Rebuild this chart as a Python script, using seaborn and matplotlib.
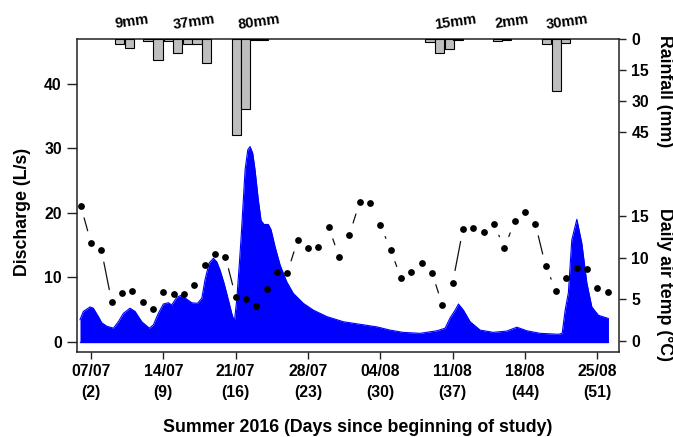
import numpy as np
import pandas as pd
import matplotlib
matplotlib.use("Agg")
import matplotlib.pyplot as plt
import matplotlib.transforms as mtransforms
import seaborn as sns

# ---------------- data ----------------
# discharge (L/s) vs day of study
q_day = [0.93, 1.25, 1.90, 2.22, 2.71, 3.03, 3.52, 4.16, 4.64, 5.13, 5.77, 6.26, 6.91,
         7.64, 8.03, 8.51, 9.00, 9.48, 9.81, 10.30, 10.78, 11.26, 11.75, 12.29, 12.72,
         13.03, 13.42, 13.84, 14.17, 14.49, 14.87, 15.29, 15.62, 15.87, 16.10, 16.33,
         16.52, 16.68, 16.91, 17.17, 17.39, 17.65, 17.87, 18.19, 18.46, 18.75, 19.16,
         19.42, 19.81, 20.30, 20.94, 21.58, 22.55, 23.52, 24.82, 26.42, 28.04, 29.66,
         30.94, 32.20, 33.85, 35.49, 36.27, 36.75, 37.24, 37.56, 38.04, 38.69, 39.66,
         40.94, 42.24, 43.21, 44.18, 45.46, 47.24, 47.60, 47.89, 48.20, 48.53, 49.02,
         49.50, 49.99, 50.47, 51.11, 52.08]
q_val = [3.4, 4.7, 5.4, 5.2, 3.9, 2.95, 2.4, 2.1, 3.1, 4.4, 5.2, 4.7, 3.1,
         2.1, 2.6, 4.4, 5.85, 6.05, 5.7, 6.9, 7.25, 6.6, 6.05, 5.95, 6.75,
         9.6, 12.2, 12.95, 12.4, 11.1, 9.1, 6.5, 4.4, 3.1, 6.5, 11.6,
         16.05, 20.45, 26.7, 29.8, 30.3, 29.25, 26.7, 22.0, 18.8, 18.2, 18.2,
         17.4, 14.75, 11.9, 9.3, 7.5, 5.95, 4.9, 3.9, 3.1, 2.7, 2.3,
         1.8, 1.45, 1.3, 1.7, 2.1, 3.7, 4.9, 5.85, 4.9, 3.1, 1.8,
         1.45, 1.65, 2.25, 1.7, 1.3, 1.15, 1.3, 4.9, 7.6, 15.8, 19.0,
         15.3, 9.1, 5.4, 4.1, 3.6]

# daily air temperature (deg C), days 1..52
temp_day = list(range(1, 53))
temp_val = [16.25, 11.8, 10.95, 4.7, 5.8, 6.05, 4.7, 3.85, 5.9, 5.65,
            5.65, 6.75, 9.15, 10.5, 10.15, 5.3, 5.1, 4.25, 6.25, 8.35,
            8.2, 12.15, 11.2, 11.3, 13.7, 10.15, 12.75, 16.7, 16.6, 13.95,
            10.95, 7.55, 8.35, 9.35, 8.2, 4.35, 7.0, 13.45, 13.55, 13.1,
            14.1, 11.15, 14.4, 15.5, 14.1, 9.0, 6.05, 7.55, 8.8, 8.7,
            6.4, 5.9]

# rainfall (mm) bars
rain_day = [4.76, 5.70, 7.50, 8.47, 9.53, 10.40, 11.37, 12.26, 13.15, 16.06, 16.94,
            17.83, 18.70, 34.82, 35.74, 36.67, 37.51, 41.35, 42.24, 46.06, 47.03, 47.91]
rain_mm = [2.6, 4.6, 1.1, 10.2, 1.1, 7.0, 2.6, 2.6, 11.5, 46.5, 34.0,
           0.4, 0.3, 1.4, 7.0, 5.0, 0.4, 1.1, 0.4, 2.6, 25.3, 1.8]

# rainfall event labels
rain_label_text = ["9mm", "37mm", "80mm", "15mm", "2mm", "30mm"]
rain_label_day = [5.97, 11.97, 18.26, 37.24, 42.75, 48.08]

# x ticks
tick_days = [2, 9, 16, 23, 30, 37, 44, 51]
tick_dates = ["07/07", "14/07", "21/07", "28/07", "04/08", "11/08", "18/08", "25/08"]

q_ticks = [0, 10, 20, 30, 40]
t_ticks = [0, 5, 10, 15]
r_ticks = [0, 15, 30, 45]

# ---------------- style ----------------
sns.set_style("ticks")
plt.rcParams['font.family'] = ['Liberation Sans', 'DejaVu Sans']
plt.rcParams['font.weight'] = 'bold'
plt.rcParams['text.color'] = 'black'
plt.rcParams['axes.labelcolor'] = 'black'

W, H = 673, 437
fig = plt.figure(figsize=(W / 100, H / 100), dpi=100)
L, R, T, B = 77, 619, 39, 352
ax = fig.add_axes([L / W, 1 - B / H, (R - L) / W, (B - T) / H])

XLIM = (0.64, 53.1)
ax.set_xlim(XLIM)
ax.set_ylim(-1.6, 47.0)

# discharge area
ax.fill_between(q_day, 0, q_val, color="#0000FF", lw=0, zorder=1)
sns.lineplot(x=q_day, y=q_val, ax=ax, color="#0000FF", lw=0.8, zorder=2)
ax.plot([q_day[0], q_day[-1]], [0, 0], color="#0000FF", lw=1.0)
ax.set_xlim(XLIM)
ax.set_ylim(-1.6, 47.0)

# temperature axis
ax_t = ax.twinx()
ax_t.set_ylim(-1.32, 36.3)
ax_t.set_xlim(XLIM)
sns.scatterplot(x=temp_day, y=temp_val, ax=ax_t, color="black", s=24,
                edgecolor="black", linewidth=0, zorder=3)
ax_t.set_ylim(-1.32, 36.3)
ax_t.set_xlim(XLIM)

# R-style type="b" line segments with gaps around points
pts = ax_t.transData.transform(np.column_stack([temp_day, temp_val]))
inv = ax_t.transData.inverted()
gap = 12.5
for p0, p1 in zip(pts[:-1], pts[1:]):
    v = p1 - p0
    ln = np.hypot(*v)
    if ln > 2 * gap:
        u = v / ln
        a = inv.transform(p0 + u * gap)
        b = inv.transform(p1 - u * gap)
        ax_t.plot([a[0], b[0]], [a[1], b[1]], color="#111111", lw=0.9, zorder=2)
ax_t.set_ylim(-1.32, 36.3)
ax_t.set_xlim(XLIM)

# rainfall axis (inverted)
ax_r = ax.twinx()
ax_r.bar(rain_day, rain_mm, width=0.9, bottom=0, color="#BEBEBE",
         edgecolor="black", linewidth=0.8, zorder=3)
ax_r.set_ylim(152, 0)
ax_r.set_xlim(XLIM)

# ---------------- ticks ----------------
tsize = 11.3
ax.set_xticks(tick_days)
ax.set_xticklabels([f"{d}\n({n})" for d, n in zip(tick_dates, tick_days)])
for lab in ax.get_xticklabels():
    lab.set_linespacing(1.5)
ax.tick_params(axis="x", direction="out", length=5, width=1, pad=4,
               labelsize=tsize, colors="#222222", labelcolor="black")
ax.set_yticks(q_ticks)
ax.tick_params(axis="y", direction="out", length=7, width=1, pad=4,
               labelsize=tsize, left=True, colors="#222222", labelcolor="black")

for a_, ticks in ((ax_t, t_ticks), (ax_r, r_ticks)):
    a_.set_yticks(ticks)
    a_.tick_params(axis="y", direction="out", length=5, width=1, pad=4,
                   labelsize=tsize, right=True, left=False, labelright=True,
                   labelleft=False, colors="#222222", labelcolor="black")
    for s in a_.spines.values():
        s.set_visible(False)

for s in ax.spines.values():
    s.set_visible(True)
    s.set_color("#222222")
    s.set_linewidth(1.1)

# ---------------- labels ----------------
lsize = 12.8
fig.text(358 / W, 1 - 427 / H, "Summer 2016 (Days since beginning of study)",
         ha="center", va="center", fontsize=lsize, fontweight="bold", color="black")
fig.text(23 / W, 1 - 212 / H, "Discharge (L/s)", rotation=90,
         ha="center", va="center", fontsize=lsize, fontweight="bold", color="black")
fig.text(665 / W, 1 - 91 / H, "Rainfall (mm)", rotation=270,
         ha="center", va="center", fontsize=lsize, fontweight="bold", color="black")
fig.text(665 / W, 1 - 284 / H, "Daily air temp (\u00b0C)", rotation=270,
         ha="center", va="center", fontsize=lsize, fontweight="bold", color="black")

trans = mtransforms.blended_transform_factory(ax.transData, ax.transAxes)
for d, txt in zip(rain_label_day, rain_label_text):
    ax.text(d, 1 + 17 / (B - T), txt, transform=trans, rotation=8,
            ha="center", va="center", fontsize=10.5, fontweight="bold",
            color="black", clip_on=False)

fig.savefig("out.png", dpi=100)
